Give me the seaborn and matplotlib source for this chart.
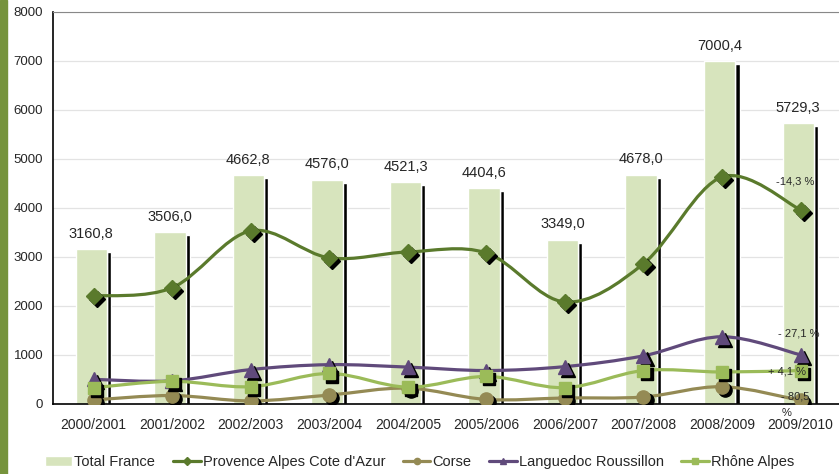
import numpy as np
import matplotlib
matplotlib.use("Agg")
import matplotlib.pyplot as plt
import matplotlib.transforms as mtransforms
from matplotlib.path import Path
from matplotlib.patches import PathPatch, Patch, Rectangle
from matplotlib.lines import Line2D
import seaborn as sns
import pandas as pd

seasons = ["2000/2001", "2001/2002", "2002/2003", "2003/2004", "2004/2005",
           "2005/2006", "2006/2007", "2007/2008", "2008/2009", "2009/2010"]
total_france = [3160.8, 3506.0, 4662.8, 4576.0, 4521.3, 4404.6, 3349.0, 4678.0, 7000.4, 5729.3]
paca = [2200, 2370, 3530, 2980, 3100, 3080, 2080, 2860, 4630, 3960]
corse = [80, 170, 60, 180, 320, 90, 120, 140, 350, 70]
languedoc = [500, 470, 700, 800, 750, 680, 760, 980, 1370, 1000]
rhone = [330, 460, 350, 620, 340, 560, 330, 680, 650, 680]

change_labels = ["-14,3 %", "- 27,1 %", "+ 4,1 %", "- 80,5", "%"]

series = [
    ("Provence Alpes Cote d'Azur", paca, "#5a7a2c", "D", 8.5),
    ("Corse", corse, "#948a54", "o", 9.5),
    ("Languedoc Roussillon", languedoc, "#604a7b", "^", 9.5),
    ("Rhône Alpes", rhone, "#9bbb59", "s", 9),
]

sns.set_style("white")
plt.rcParams["font.family"] = ["Liberation Sans", "DejaVu Sans"]

fig = plt.figure(figsize=(8.39, 4.74), dpi=100)
ax = fig.add_axes([0.063, 0.148, 0.938, 0.827])

# left green strip
fig.patches.append(Rectangle((0, 0), 0.0085, 1, transform=fig.transFigure,
                             color="#76933c", zorder=0))

df = pd.DataFrame({"season": seasons, "total": total_france})
x = np.arange(len(seasons))

# black shadow of the bars
ax.bar(x + 0.195, np.array(total_france) - 60, width=0.055, color="black", zorder=1)
sns.barplot(data=df, x="season", y="total", color="#d7e4bd", saturation=1,
            width=0.4, ax=ax, zorder=2)
for p in ax.patches:
    if p.get_facecolor()[0] > 0.5:
        p.set_x(p.get_x() - 0.03)

for xi, v in zip(x, total_france):
    ax.text(xi - 0.03, v + 170, f"{v:.1f}".replace(".", ","), ha="center",
            va="bottom", fontsize=10.5, zorder=6)


def smooth_path(xs, ys):
    pts = np.column_stack([xs, ys]).astype(float)
    verts = [pts[0]]
    codes = [Path.MOVETO]
    n = len(pts)
    for i in range(n - 1):
        p0 = pts[i - 1] if i > 0 else pts[i]
        p1 = pts[i]
        p2 = pts[i + 1]
        p3 = pts[i + 2] if i + 2 < n else pts[i + 1]
        c1 = p1 + (p2 - p0) / 6.0
        c2 = p2 - (p3 - p1) / 6.0
        verts += [c1, c2, p2]
        codes += [Path.CURVE4] * 3
    return Path(verts, codes)


shadow = ax.transData + mtransforms.ScaledTranslation(2.2 / 72, -2.2 / 72, fig.dpi_scale_trans)
handles = [Patch(facecolor="#d7e4bd", label="Total France")]
for i, (name, vals, col, mk, ms) in enumerate(series):
    z = 3 + i * 0.1
    ax.add_patch(PathPatch(smooth_path(x, vals), facecolor="none", edgecolor=col,
                           lw=2.3, zorder=z))
    ax.plot(x, vals, ls="none", marker=mk, ms=ms, color="black", transform=shadow,
            zorder=z + 0.01)
    ax.plot(x, vals, ls="none", marker=mk, ms=ms, color=col, mec=col, zorder=z + 0.02)
    handles.append(Line2D([0], [0], color=col, lw=2.3, marker=mk, ms=4.5, label=name))

# change annotations for the last season
fs = 8
ax.text(8.69, 4530, change_labels[0], ha="left", va="center", fontsize=fs, zorder=7)
ax.text(8.71, 1430, change_labels[1], ha="left", va="center", fontsize=fs, zorder=7)
ax.text(8.59, 650, change_labels[2], ha="left", va="center", fontsize=fs, zorder=7)
ax.text(8.75, 140, change_labels[3], ha="left", va="center", fontsize=fs, zorder=7)
ax.text(8.76, -190, change_labels[4], ha="left", va="center", fontsize=fs, zorder=7,
        clip_on=False)

ax.set_xlim(-0.52, 9.46)
ax.set_ylim(0, 8000)
ax.set_yticks(range(0, 8001, 1000))
ax.set_xticks(x)
ax.set_xticklabels(seasons)
ax.set_xticks(np.arange(-0.5, 9.6, 1), minor=True)
ax.tick_params(axis="x", which="major", length=0, pad=10, labelsize=10)
ax.tick_params(axis="x", which="minor", length=4, color="#808080", width=0.8)
ax.tick_params(axis="y", length=4, color="#808080", labelsize=9.5, pad=3)
ax.set_xlabel("")
ax.set_ylabel("")
ax.grid(axis="y", color="#e3e3e3", lw=0.9, zorder=0)
ax.set_axisbelow(True)
for s in ["left", "bottom"]:
    ax.spines[s].set_color("black")
    ax.spines[s].set_linewidth(1.2)
ax.spines["top"].set_color("#888888")
ax.spines["right"].set_visible(False)

ax.legend(handles=handles, loc="center", bbox_to_anchor=(0.466, -0.148),
          ncol=5, frameon=False, fontsize=10.5, handlelength=1.9, handletextpad=0.15,
          columnspacing=1.2, borderpad=0)

fig.savefig("out.png", dpi=100)
